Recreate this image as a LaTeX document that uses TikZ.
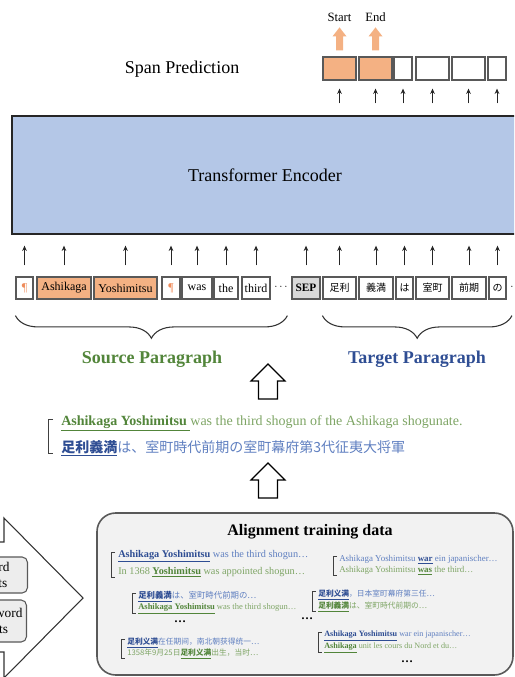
\documentclass[tikz,border=0pt]{standalone}
\usepackage{fontspec}
\setmainfont{Liberation Serif}
\newfontfamily\jpfont{Noto Sans CJK JP}
\newfontfamily\zhfont{Noto Sans CJK SC}
\usetikzlibrary{positioning,calc,arrows.meta,decorations.pathreplacing}

\definecolor{encblue}{HTML}{B4C7E7}
\definecolor{spanorange}{HTML}{F4B183}
\definecolor{pilcrow}{HTML}{EE8B5A}
\definecolor{srcgreen}{HTML}{7EA565}
\definecolor{srcdark}{HTML}{52853A}
\definecolor{tgtblue}{HTML}{5F7FC0}
\definecolor{tgtdark}{HTML}{2E4D93}
\definecolor{edgegray}{HTML}{595959}
\definecolor{panelgray}{HTML}{F2F2F2}
\definecolor{tabgray}{HTML}{EDEDED}

\newcommand{\fsz}[1]{\fontsize{#1}{#1}\selectfont}
\newcommand{\hlsrc}[1]{\textcolor{srcdark}{\underline{\textbf{#1}}}}
\newcommand{\hltgt}[1]{\textcolor{tgtdark}{\underline{\textbf{#1}}}}

\tikzset{
  tok/.style={draw=edgegray, line width=0.9pt, minimum height=16.5pt,
    inner sep=0pt, font=\fsz{9}},
  jptok/.style={tok, font=\jpfont\fsz{7.5}},
  spanbox/.style={draw=edgegray, line width=0.9pt, minimum height=17.25pt, inner sep=0pt},
  hot/.style={fill=spanorange},
  feed/.style={-{Stealth[length=4pt,width=3.5pt]}, line width=0.6pt, black!85},
  brk/.style={draw=black!75, line width=0.7pt},
  hollow/.style={draw=black, line width=0.9pt, fill=white},
  para/.style={decorate, decoration={brace, mirror, amplitude=17pt},
    draw=black!80, line width=0.8pt},
  txt/.style={anchor=west, inner sep=0pt},
  src/.style={text=srcgreen},
  tgt/.style={text=tgtblue},
}

\begin{document}
\begin{tikzpicture}[x=0.75pt,y=-0.75pt]
  \useasboundingbox (0,0) rectangle (514,677);
  \clip (0,0) rectangle (514,677);

  %Encoder block
  \node[draw=black!85, line width=1pt, fill=encblue, minimum width=379.5pt,
    minimum height=88.5pt, font=\fsz{13.5}] (enc) at (265,175) {Transformer Encoder};

  %Span prediction head
  \node[font=\fsz{13.5}] (spanlbl) at (182,69) {Span Prediction};
  \node[spanbox, hot, minimum width=24.75pt] (s1) at (339.5,68.5) {};
  \node[spanbox, hot, minimum width=24.75pt] (s2) at (375.5,68.5) {};
  \node[spanbox, minimum width=13.5pt] (s3) at (403,68.5) {};
  \node[spanbox, minimum width=24.75pt] (s4) at (432.5,68.5) {};
  \node[spanbox, minimum width=24.75pt] (s5) at (468.5,68.5) {};
  \node[spanbox, minimum width=13.5pt] (s6) at (497,68.5) {};
  \foreach \i in {1,...,6}
    \draw[feed, shorten <=9pt, shorten >=6pt] (enc.north -| s\i) -- (s\i.south);

  %Start / end outputs
  \foreach \i/\lbl in {1/Start,2/End}{
    \fill[spanorange] ($(s\i.north)+(-3.5,-6)$) -- ++(0,-14) -- ++(-3.5,0)
      -- ($(s\i.north)+(0,-29)$) -- ($(s\i.north)+(7,-20)$) -- ++(-3.5,0)
      -- ($(s\i.north)+(3.5,-6)$) -- cycle;
    \node[font=\fsz{9.5}] (out\i) at ($(s\i.north)+(0,-39)$) {\lbl};
  }

  %Input tokens
  \node[tok, minimum width=12.75pt, text=pilcrow] (t1) at (24.5,288) {\P};
  \node[tok, hot, minimum width=40.5pt] (t2) at (64,288) {Ashikaga};
  \node[tok, hot, minimum width=47.25pt] (t3) at (125.5,288) {Yoshimitsu};
  \node[tok, minimum width=13.5pt, text=pilcrow] (t4) at (171,288) {\P};
  \node[tok, minimum width=22.5pt] (t5) at (197,288) {was};
  \node[tok, minimum width=18pt] (t6) at (226,288) {the};
  \node[tok, minimum width=21pt] (t7) at (256,288) {third};
  \node[font=\fsz{8}] (gap) at (281,287) {$\cdots$};
  \node[tok, fill=black!15, minimum width=21pt, font=\bfseries\fsz{8.5}] (t8) at (306,288) {SEP};
  \node[jptok, minimum width=24.75pt] (t9) at (339.5,288) {足利};
  \node[jptok, minimum width=25.5pt] (t10) at (376,288) {義満};
  \node[jptok, minimum width=12.75pt] (t11) at (404.5,288) {は};
  \node[jptok, minimum width=24.75pt] (t12) at (432.5,288) {室町};
  \node[jptok, minimum width=25.5pt] (t13) at (469,288) {前期};
  \node[jptok, minimum width=12.75pt] (t14) at (497.5,288) {の};
  \node[font=\fsz{8}] (more) at (517,287) {$\cdots$};
  \foreach \i in {1,...,14}
    \draw[feed, shorten <=8.25pt, shorten >=8.25pt] (t\i.north) -- (t\i.north |- enc.south);

  %Paragraph braces
  \draw[para] ([yshift=-12pt]t1.south west) -- ([yshift=-12pt,xshift=-3pt]t8.south west);
  \draw[para] ([yshift=-12pt]t9.south west) -- ([yshift=-12pt,xshift=4pt]t14.south east);
  \node[font=\bfseries\fsz{13.5}, text=srcdark] (srclbl) at (152,359) {Source Paragraph};
  \node[font=\bfseries\fsz{13.5}, text=tgtdark] (tgtlbl) at (417,359) {Target Paragraph};

  %Hollow arrows
  \foreach \t in {364,463}
    \draw[hollow] (258.5,{\t+35}) -- (258.5,{\t+17}) -- (251,{\t+17}) -- (268,\t)
      -- (285,{\t+17}) -- (277.5,{\t+17}) -- (277.5,{\t+35}) -- cycle;

  %Aligned sentence pair
  \node[txt, src, font=\fsz{10.5}] (sen) at (61,423)
    {\hlsrc{Ashikaga Yoshimitsu }was the third shogun of the Ashikaga shogunate.};
  \node[txt, tgt, font=\jpfont\fsz{10.5}] (sja) at (61,448)
    {\hltgt{足利義満}は、室町時代前期の室町幕府第3代征夷大将軍};
  \draw[brk] ($(sen.west)+(-8,-4)$) -- ++(-5,0) |- ($(sja.west)+(-8,5)$);

  %Alignment sources
  \draw[draw=black!80, line width=0.8pt, fill=white] (-5,542) -- (4,542) -- (4,518)
    -- (83,598) -- (4,678) -- (4,652) -- (-5,652);
  \node[draw=edgegray, fill=tabgray, rounded corners=4pt, line width=0.8pt,
    anchor=east, align=left, inner xsep=13.5pt, minimum height=27pt,
    font=\fontsize{10}{12.5}\selectfont] (wa) at (28,575) {rd\\ts};
  \node[draw=edgegray, fill=tabgray, rounded corners=4pt, line width=0.8pt,
    anchor=east, align=left, inner xsep=3pt, minimum height=31.5pt,
    font=\fontsize{10}{12}\selectfont] (wb) at (27,621) {word\\\hspace*{3pt}ts};

  %Alignment training data panel
  \draw[draw=edgegray, line width=1.2pt, fill=panelgray, rounded corners=14pt]
    (97,513) rectangle (513,675);
  \node[font=\bfseries\fsz{12}] (title) at (310,532) {Alignment training data};

  \node[txt, tgt, font=\fsz{7.7}] (a1) at (118,556) {\hltgt{Ashikaga Yoshimitsu} was the third shogun…};
  \node[txt, src, font=\fsz{7.7}] (a2) at (118,572) {In 1368 \hlsrc{Yoshimitsu} was appointed shogun…};
  \draw[brk] ($(a1.west)+(-3,-4)$) -- ++(-4,0) |- ($(a2.west)+(-3,5)$);

  \node[txt, tgt, font=\jpfont\fsz{6.3}] (b1) at (138,597) {\hltgt{足利義満}は、室町時代前期の…};
  \node[txt, src, font=\fsz{6.4}] (b2) at (138,609) {\hlsrc{Ashikaga Yoshimitsu} was the third shogun…};
  \draw[brk] ($(b1.west)+(-2,-4)$) -- ++(-4,0) |- ($(b2.west)+(-2,4)$);
  \node[font=\bfseries\fsz{9}] (dotsb) at (180,622) {…};

  \node[txt, tgt, font=\zhfont\fsz{5.8}] (c1) at (127,643) {\hltgt{足利义满}在任期间，南北朝获得统一…};
  \node[txt, src, font=\zhfont\fsz{5.8}] (c2) at (127,654) {1358年9月25日\hlsrc{足利义满}出生，当时…};
  \draw[brk] ($(c1.west)+(-2,-4)$) -- ++(-4,0) |- ($(c2.west)+(-2,4)$);

  \node[txt, tgt, font=\fsz{6.7}] (d1) at (339,560) {Ashikaga Yoshimitsu \hltgt{war} ein japanischer…};
  \node[txt, src, font=\fsz{6.7}] (d2) at (339,571) {Ashikaga Yoshimitsu \hlsrc{was} the third…};
  \draw[brk] ($(d1.west)+(-2,-4)$) -- ++(-4,0) |- ($(d2.west)+(-2,4)$);

  \node[txt, tgt, font=\zhfont\fsz{5.8}] (e1) at (318,595) {\hltgt{足利义满}，日本室町幕府第三任…};
  \node[txt, src, font=\jpfont\fsz{5.8}] (e2) at (318,607) {\hlsrc{足利義満}は、室町時代前期の…};
  \draw[brk] ($(e1.west)+(-2,-4)$) -- ++(-4,0) |- ($(e2.west)+(-2,4)$);
  \node[font=\bfseries\fsz{9}] (dotse) at (307,619) {…};

  \node[txt, tgt, font=\fsz{6.1}] (f1) at (324,636) {\hltgt{Ashikaga Yoshimitsu} war ein japanischer…};
  \node[txt, src, font=\fsz{6.1}] (f2) at (324,648) {\hlsrc{Ashikaga} unit les cours du Nord et du…};
  \draw[brk] ($(f1.west)+(-2,-4)$) -- ++(-4,0) |- ($(f2.west)+(-2,4)$);
  \node[font=\bfseries\fsz{9}] (dotsf) at (407,662) {…};
\end{tikzpicture}
\end{document}
